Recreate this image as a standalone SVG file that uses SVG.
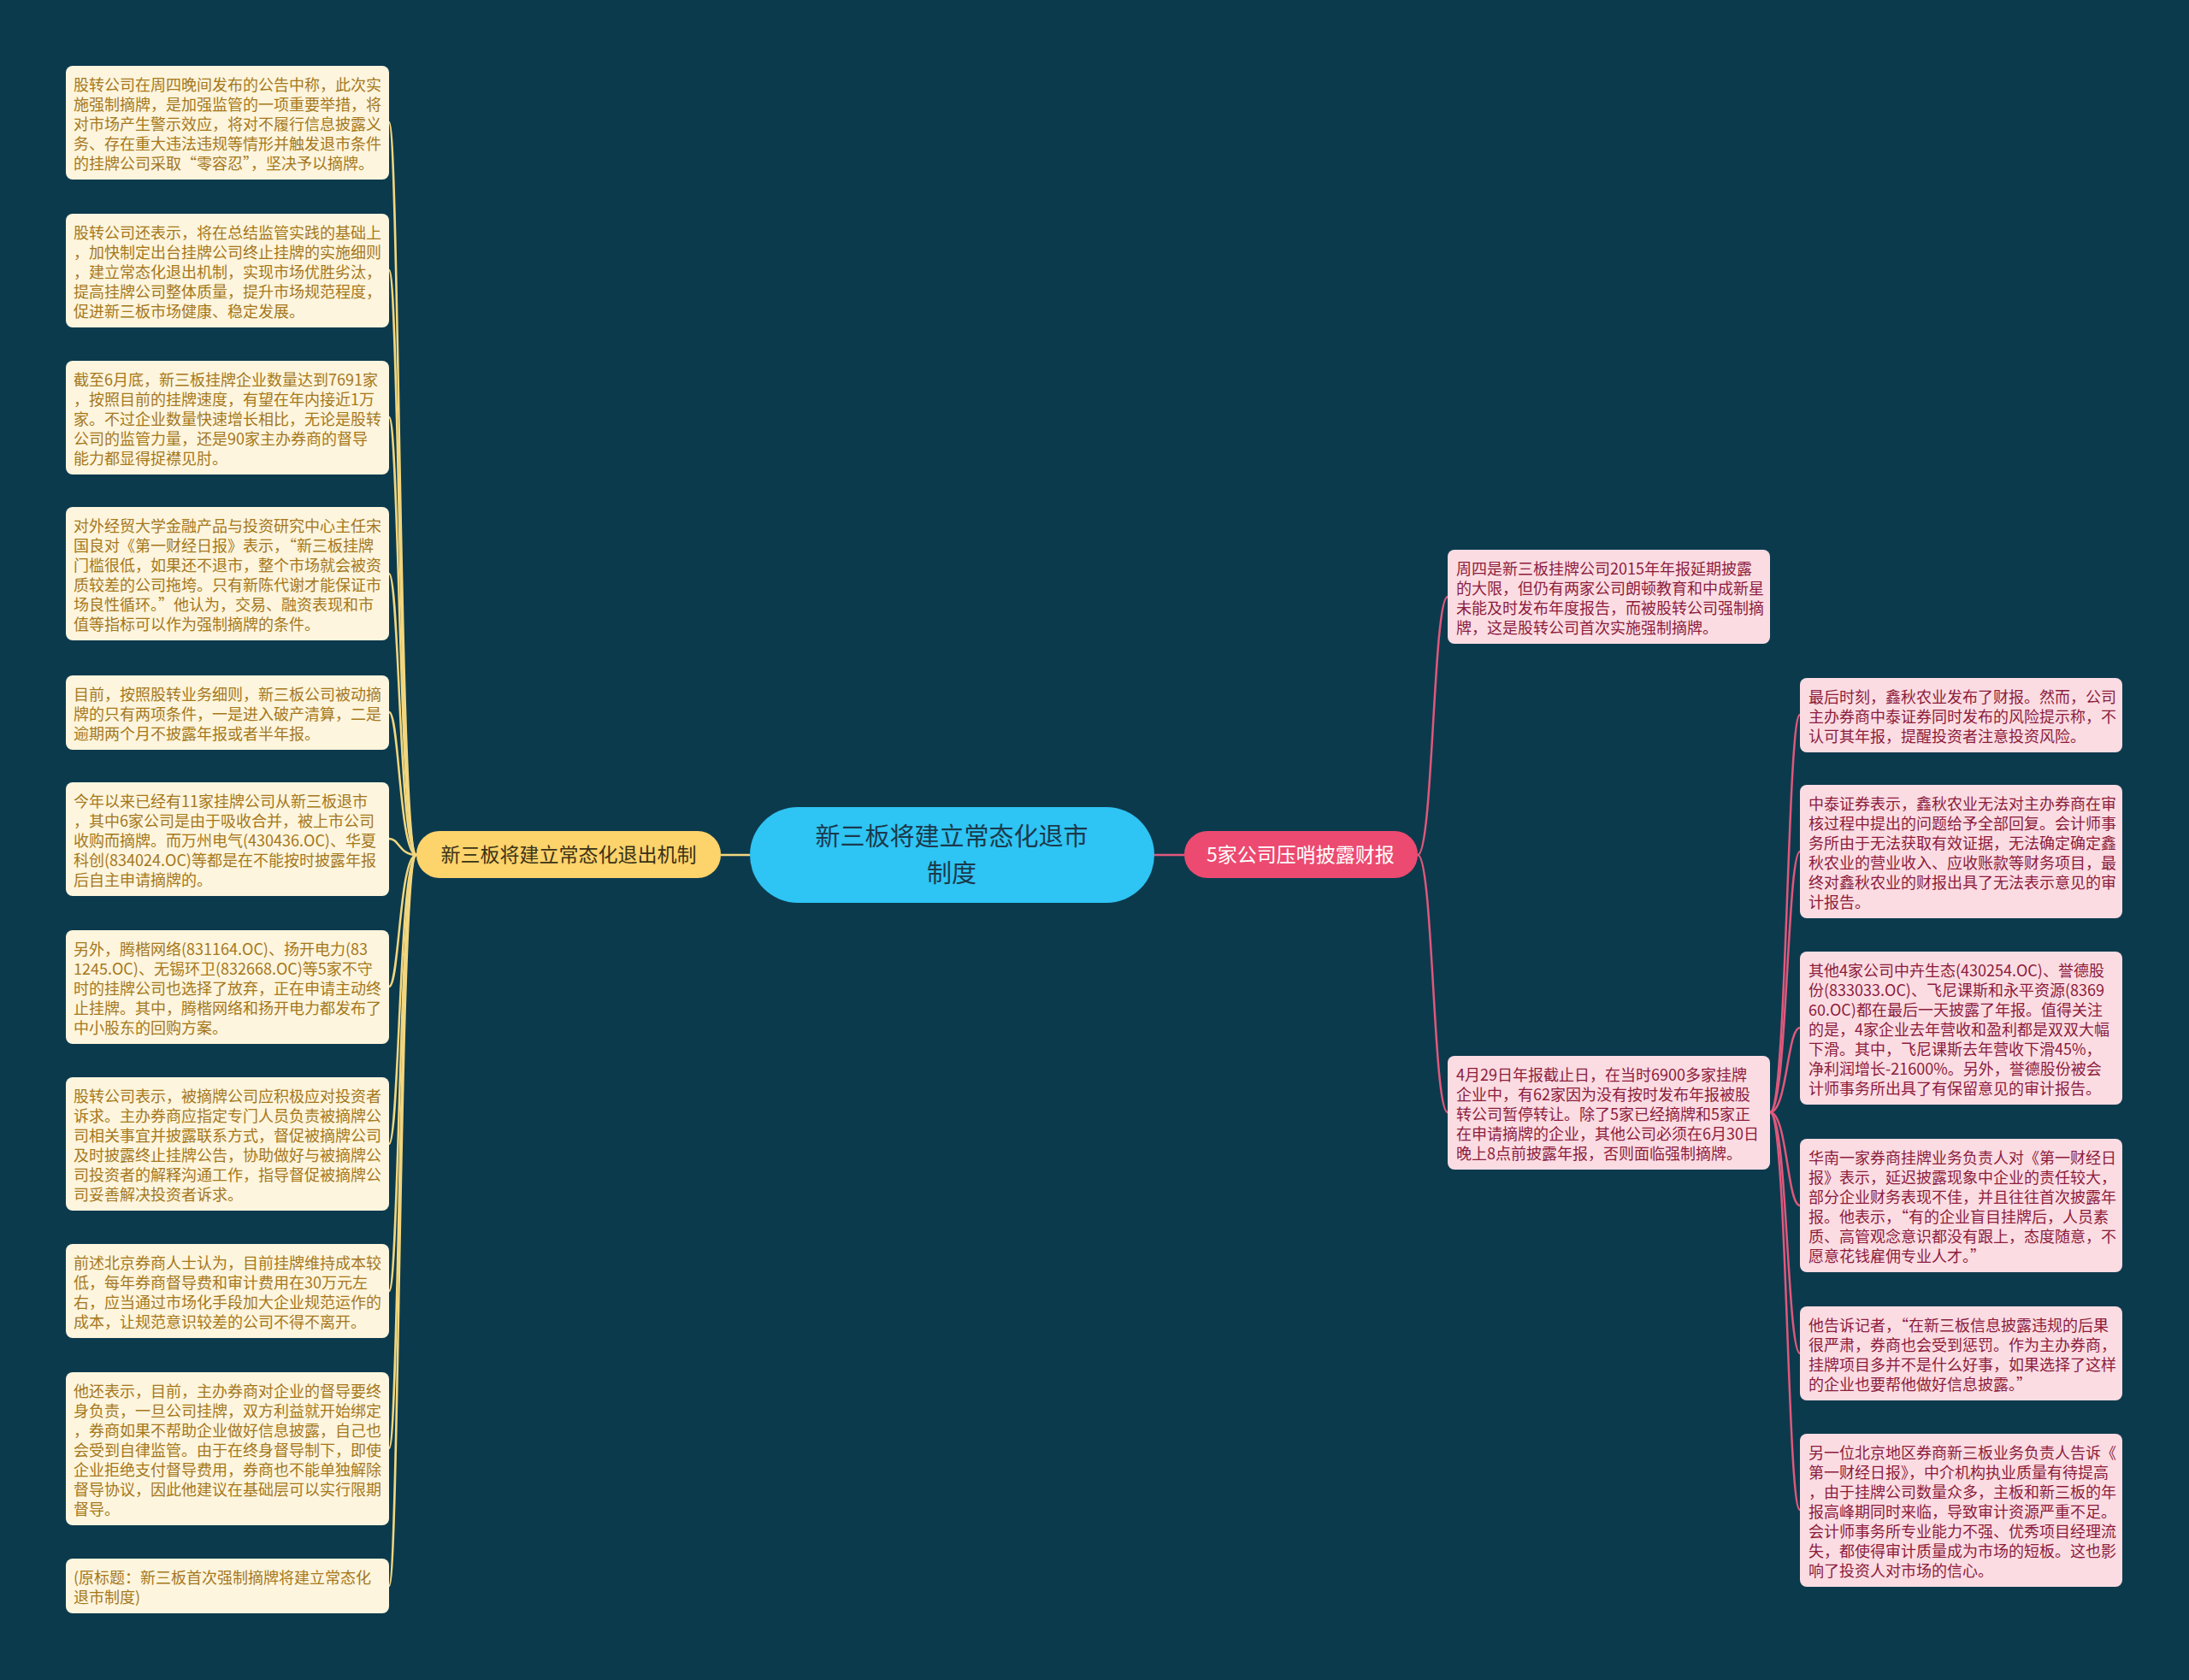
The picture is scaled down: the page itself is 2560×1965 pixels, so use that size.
<svg xmlns="http://www.w3.org/2000/svg" width="2560" height="1965" viewBox="0 0 2560 1965">
<style>
.bg{fill:#0c3a4d}
.t{font-family:"Noto Sans CJK SC","Noto Sans",sans-serif;font-size:18px}
.lf rect{fill:#fdf5dd}
.lf text{fill:#a5781c}
.pf rect{fill:#fbdce3}
.pf text{fill:#8c1c3c}
.cy{fill:none;stroke:#f2d67e;stroke-width:2.5}
.cp{fill:none;stroke:#e0587c;stroke-width:2.5}
</style>
<rect class="bg" x="0" y="0" width="2560" height="1965"/>

<g id="connectors">
<line class="cy" x1="843" y1="1000" x2="877" y2="1000"/>
<line class="cp" x1="1350" y1="1000" x2="1385" y2="1000"/>
<path class="cy" d="M487 1000 C467 1000 467 143 455 143"/>
<path class="cy" d="M487 1000 C467 1000 467 316 455 316"/>
<path class="cy" d="M487 1000 C467 1000 467 488 455 488"/>
<path class="cy" d="M487 1000 C467 1000 467 671 455 671"/>
<path class="cy" d="M487 1000 C467 1000 467 833 455 833"/>
<path class="cy" d="M487 1000 C467 1000 467 981 455 981"/>
<path class="cy" d="M487 1000 C467 1000 467 1154 455 1154"/>
<path class="cy" d="M487 1000 C467 1000 467 1338 455 1338"/>
<path class="cy" d="M487 1000 C467 1000 467 1510 455 1510"/>
<path class="cy" d="M487 1000 C467 1000 467 1694 455 1694"/>
<path class="cy" d="M487 1000 C467 1000 467 1855 455 1855"/>
<path class="cp" d="M1658 1000 C1676 1000 1676 698 1693 698"/>
<path class="cp" d="M1658 1000 C1676 1000 1676 1301 1693 1301"/>
<path class="cp" d="M2070 1301 C2090 1301 2090 836 2105 836"/>
<path class="cp" d="M2070 1301 C2090 1301 2090 996 2105 996"/>
<path class="cp" d="M2070 1301 C2090 1301 2090 1202 2105 1202"/>
<path class="cp" d="M2070 1301 C2090 1301 2090 1410 2105 1410"/>
<path class="cp" d="M2070 1301 C2090 1301 2090 1583 2105 1583"/>
<path class="cp" d="M2070 1301 C2090 1301 2090 1766 2105 1766"/>
</g>

<g id="root">
<rect x="877" y="944" width="473" height="112" rx="56" fill="#2ec4f4"/>
<text x="1113" y="989" text-anchor="middle" font-family="Noto Sans CJK SC, sans-serif" font-size="29" fill="#1b3a4c">新三板将建立常态化退市</text>
<text x="1113" y="1032" text-anchor="middle" font-family="Noto Sans CJK SC, sans-serif" font-size="29" fill="#1b3a4c">制度</text>
</g>

<g id="branch-left">
<rect x="487" y="972" width="356" height="55" rx="27" fill="#fdd36b"/>
<text x="665" y="1008" text-anchor="middle" font-family="Noto Sans CJK SC, sans-serif" font-size="23" fill="#3a3216">新三板将建立常态化退出机制</text>
</g>

<g id="branch-right">
<rect x="1385" y="972" width="273" height="55" rx="27" fill="#ec4a70"/>
<text x="1521" y="1008" text-anchor="middle" font-family="Noto Sans CJK SC, sans-serif" font-size="23" fill="#ffffff">5家公司压哨披露财报</text>
</g>

<g id="l1" class="lf t"><rect x="77" y="77" width="378" height="133" rx="8"/>
<text x="86" y="105.5">股转公司在周四晚间发布的公告中称，此次实</text>
<text x="86" y="128.5">施强制摘牌，是加强监管的一项重要举措，将</text>
<text x="86" y="151.5">对市场产生警示效应，将对不履行信息披露义</text>
<text x="86" y="174.5">务、存在重大违法违规等情形并触发退市条件</text>
<text x="86" y="197.5">的挂牌公司采取“零容忍”，坚决予以摘牌。</text>
</g>
<g id="l2" class="lf t"><rect x="77" y="250" width="378" height="133" rx="8"/>
<text x="86" y="278.5">股转公司还表示，将在总结监管实践的基础上</text>
<text x="86" y="301.5">，加快制定出台挂牌公司终止挂牌的实施细则</text>
<text x="86" y="324.5">，建立常态化退出机制，实现市场优胜劣汰，</text>
<text x="86" y="347.5">提高挂牌公司整体质量，提升市场规范程度，</text>
<text x="86" y="370.5">促进新三板市场健康、稳定发展。</text>
</g>
<g id="l3" class="lf t"><rect x="77" y="422" width="378" height="133" rx="8"/>
<text x="86" y="450.5">截至6月底，新三板挂牌企业数量达到7691家</text>
<text x="86" y="473.5">，按照目前的挂牌速度，有望在年内接近1万</text>
<text x="86" y="496.5">家。不过企业数量快速增长相比，无论是股转</text>
<text x="86" y="519.5">公司的监管力量，还是90家主办券商的督导</text>
<text x="86" y="542.5">能力都显得捉襟见肘。</text>
</g>
<g id="l4" class="lf t"><rect x="77" y="593" width="378" height="156" rx="8"/>
<text x="86" y="621.5">对外经贸大学金融产品与投资研究中心主任宋</text>
<text x="86" y="644.5">国良对《第一财经日报》表示，“新三板挂牌</text>
<text x="86" y="667.5">门槛很低，如果还不退市，整个市场就会被资</text>
<text x="86" y="690.5">质较差的公司拖垮。只有新陈代谢才能保证市</text>
<text x="86" y="713.5">场良性循环。”他认为，交易、融资表现和市</text>
<text x="86" y="736.5">值等指标可以作为强制摘牌的条件。</text>
</g>
<g id="l5" class="lf t"><rect x="77" y="790" width="378" height="87" rx="8"/>
<text x="86" y="818.5">目前，按照股转业务细则，新三板公司被动摘</text>
<text x="86" y="841.5">牌的只有两项条件，一是进入破产清算，二是</text>
<text x="86" y="864.5">逾期两个月不披露年报或者半年报。</text>
</g>
<g id="l6" class="lf t"><rect x="77" y="915" width="378" height="133" rx="8"/>
<text x="86" y="943.5">今年以来已经有11家挂牌公司从新三板退市</text>
<text x="86" y="966.5">，其中6家公司是由于吸收合并，被上市公司</text>
<text x="86" y="989.5">收购而摘牌。而万州电气(430436.OC)、华夏</text>
<text x="86" y="1012.5">科创(834024.OC)等都是在不能按时披露年报</text>
<text x="86" y="1035.5">后自主申请摘牌的。</text>
</g>
<g id="l7" class="lf t"><rect x="77" y="1088" width="378" height="133" rx="8"/>
<text x="86" y="1116.5">另外，腾楷网络(831164.OC)、扬开电力(83</text>
<text x="86" y="1139.5">1245.OC)、无锡环卫(832668.OC)等5家不守</text>
<text x="86" y="1162.5">时的挂牌公司也选择了放弃，正在申请主动终</text>
<text x="86" y="1185.5">止挂牌。其中，腾楷网络和扬开电力都发布了</text>
<text x="86" y="1208.5">中小股东的回购方案。</text>
</g>
<g id="l8" class="lf t"><rect x="77" y="1260" width="378" height="156" rx="8"/>
<text x="86" y="1288.5">股转公司表示，被摘牌公司应积极应对投资者</text>
<text x="86" y="1311.5">诉求。主办券商应指定专门人员负责被摘牌公</text>
<text x="86" y="1334.5">司相关事宜并披露联系方式，督促被摘牌公司</text>
<text x="86" y="1357.5">及时披露终止挂牌公告，协助做好与被摘牌公</text>
<text x="86" y="1380.5">司投资者的解释沟通工作，指导督促被摘牌公</text>
<text x="86" y="1403.5">司妥善解决投资者诉求。</text>
</g>
<g id="l9" class="lf t"><rect x="77" y="1455" width="378" height="110" rx="8"/>
<text x="86" y="1483.5">前述北京券商人士认为，目前挂牌维持成本较</text>
<text x="86" y="1506.5">低，每年券商督导费和审计费用在30万元左</text>
<text x="86" y="1529.5">右，应当通过市场化手段加大企业规范运作的</text>
<text x="86" y="1552.5">成本，让规范意识较差的公司不得不离开。</text>
</g>
<g id="l10" class="lf t"><rect x="77" y="1605" width="378" height="179" rx="8"/>
<text x="86" y="1633.5">他还表示，目前，主办券商对企业的督导要终</text>
<text x="86" y="1656.5">身负责，一旦公司挂牌，双方利益就开始绑定</text>
<text x="86" y="1679.5">，券商如果不帮助企业做好信息披露，自己也</text>
<text x="86" y="1702.5">会受到自律监管。由于在终身督导制下，即使</text>
<text x="86" y="1725.5">企业拒绝支付督导费用，券商也不能单独解除</text>
<text x="86" y="1748.5">督导协议，因此他建议在基础层可以实行限期</text>
<text x="86" y="1771.5">督导。</text>
</g>
<g id="l11" class="lf t"><rect x="77" y="1823" width="378" height="64" rx="8"/>
<text x="86" y="1851.5">(原标题：新三板首次强制摘牌将建立常态化</text>
<text x="86" y="1874.5">退市制度)</text>
</g>

<g id="m1" class="pf t"><rect x="1693" y="643" width="377" height="110" rx="8"/>
<text x="1703" y="671.5">周四是新三板挂牌公司2015年年报延期披露</text>
<text x="1703" y="694.5">的大限，但仍有两家公司朗顿教育和中成新星</text>
<text x="1703" y="717.5">未能及时发布年度报告，而被股转公司强制摘</text>
<text x="1703" y="740.5">牌，这是股转公司首次实施强制摘牌。</text>
</g>
<g id="m2" class="pf t"><rect x="1693" y="1235" width="377" height="133" rx="8"/>
<text x="1703" y="1263.5">4月29日年报截止日，在当时6900多家挂牌</text>
<text x="1703" y="1286.5">企业中，有62家因为没有按时发布年报被股</text>
<text x="1703" y="1309.5">转公司暂停转让。除了5家已经摘牌和5家正</text>
<text x="1703" y="1332.5">在申请摘牌的企业，其他公司必须在6月30日</text>
<text x="1703" y="1355.5">晚上8点前披露年报，否则面临强制摘牌。</text>
</g>

<g id="r1" class="pf t"><rect x="2105" y="793" width="377" height="87" rx="8"/>
<text x="2115" y="821.5">最后时刻，鑫秋农业发布了财报。然而，公司</text>
<text x="2115" y="844.5">主办券商中泰证券同时发布的风险提示称，不</text>
<text x="2115" y="867.5">认可其年报，提醒投资者注意投资风险。</text>
</g>
<g id="r2" class="pf t"><rect x="2105" y="918" width="377" height="156" rx="8"/>
<text x="2115" y="946.5">中泰证券表示，鑫秋农业无法对主办券商在审</text>
<text x="2115" y="969.5">核过程中提出的问题给予全部回复。会计师事</text>
<text x="2115" y="992.5">务所由于无法获取有效证据，无法确定确定鑫</text>
<text x="2115" y="1015.5">秋农业的营业收入、应收账款等财务项目，最</text>
<text x="2115" y="1038.5">终对鑫秋农业的财报出具了无法表示意见的审</text>
<text x="2115" y="1061.5">计报告。</text>
</g>
<g id="r3" class="pf t"><rect x="2105" y="1113" width="377" height="179" rx="8"/>
<text x="2115" y="1141.5">其他4家公司中卉生态(430254.OC)、誉德股</text>
<text x="2115" y="1164.5">份(833033.OC)、飞尼课斯和永平资源(8369</text>
<text x="2115" y="1187.5">60.OC)都在最后一天披露了年报。值得关注</text>
<text x="2115" y="1210.5">的是，4家企业去年营收和盈利都是双双大幅</text>
<text x="2115" y="1233.5">下滑。其中，飞尼课斯去年营收下滑45%，</text>
<text x="2115" y="1256.5">净利润增长-21600%。另外，誉德股份被会</text>
<text x="2115" y="1279.5">计师事务所出具了有保留意见的审计报告。</text>
</g>
<g id="r4" class="pf t"><rect x="2105" y="1332" width="377" height="156" rx="8"/>
<text x="2115" y="1360.5">华南一家券商挂牌业务负责人对《第一财经日</text>
<text x="2115" y="1383.5">报》表示，延迟披露现象中企业的责任较大，</text>
<text x="2115" y="1406.5">部分企业财务表现不佳，并且往往首次披露年</text>
<text x="2115" y="1429.5">报。他表示，“有的企业盲目挂牌后，人员素</text>
<text x="2115" y="1452.5">质、高管观念意识都没有跟上，态度随意，不</text>
<text x="2115" y="1475.5">愿意花钱雇佣专业人才。”</text>
</g>
<g id="r5" class="pf t"><rect x="2105" y="1528" width="377" height="110" rx="8"/>
<text x="2115" y="1556.5">他告诉记者，“在新三板信息披露违规的后果</text>
<text x="2115" y="1579.5">很严肃，券商也会受到惩罚。作为主办券商，</text>
<text x="2115" y="1602.5">挂牌项目多并不是什么好事，如果选择了这样</text>
<text x="2115" y="1625.5">的企业也要帮他做好信息披露。”</text>
</g>
<g id="r6" class="pf t"><rect x="2105" y="1677" width="377" height="179" rx="8"/>
<text x="2115" y="1705.5">另一位北京地区券商新三板业务负责人告诉《</text>
<text x="2115" y="1728.5">第一财经日报》，中介机构执业质量有待提高</text>
<text x="2115" y="1751.5">，由于挂牌公司数量众多，主板和新三板的年</text>
<text x="2115" y="1774.5">报高峰期同时来临，导致审计资源严重不足。</text>
<text x="2115" y="1797.5">会计师事务所专业能力不强、优秀项目经理流</text>
<text x="2115" y="1820.5">失，都使得审计质量成为市场的短板。这也影</text>
<text x="2115" y="1843.5">响了投资人对市场的信心。</text>
</g>
</svg>
